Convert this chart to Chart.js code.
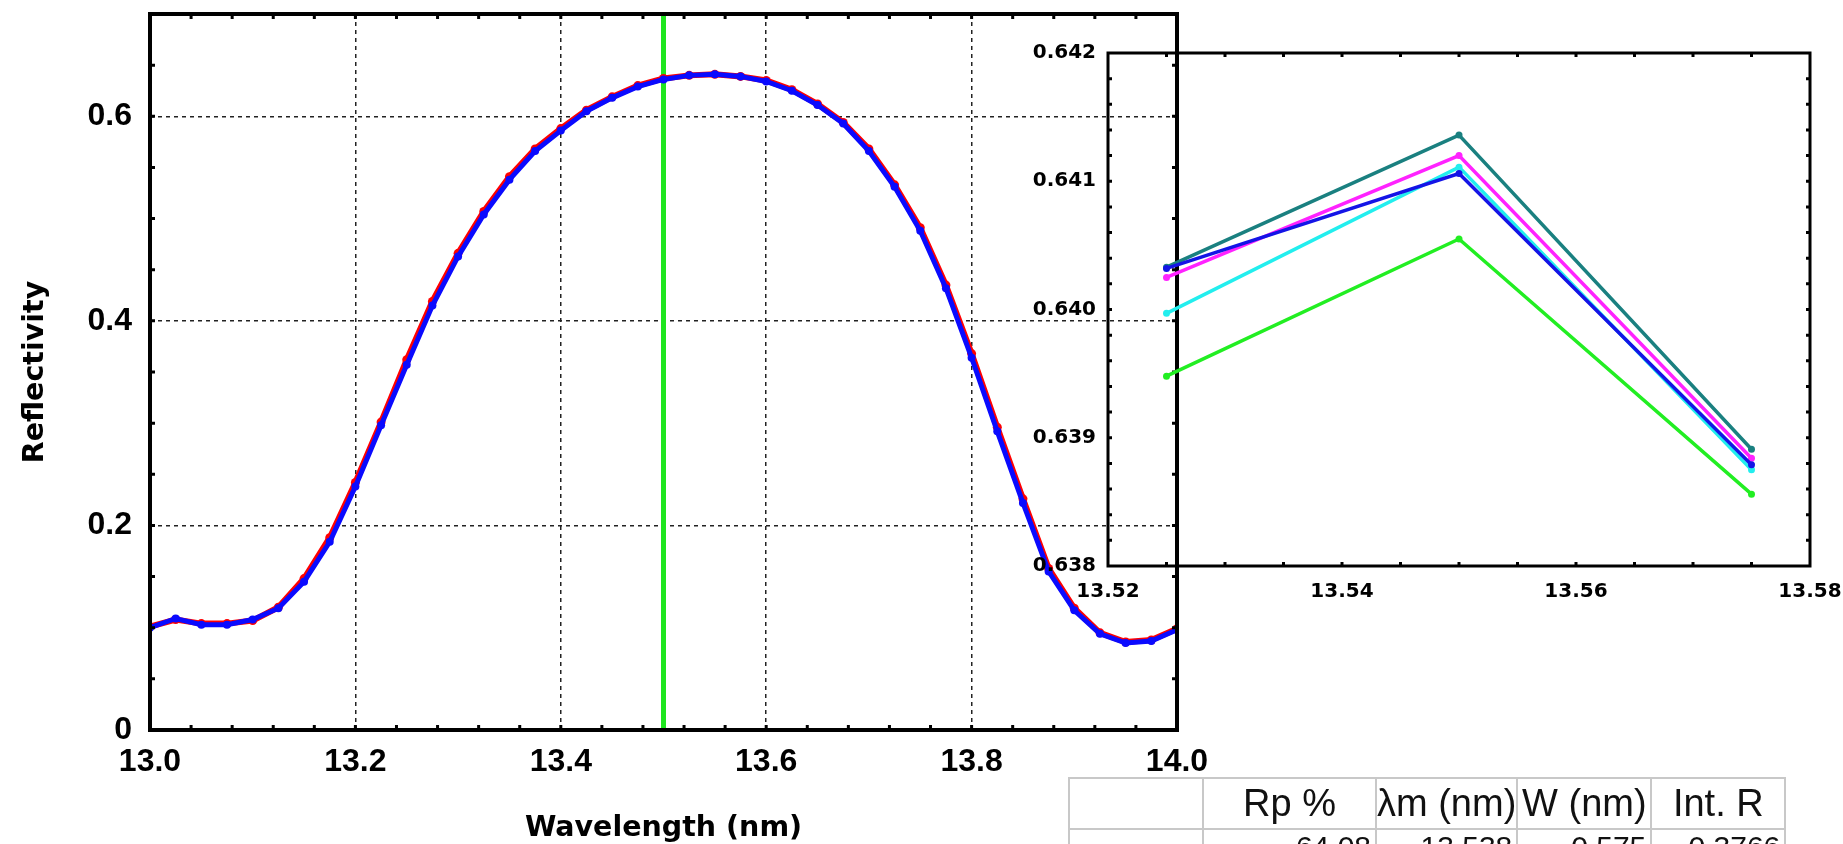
<!DOCTYPE html>
<html>
<head>
<meta charset="utf-8">
<script src="https://cdn.jsdelivr.net/npm/chart.js@4"></script>
<style>
  html, body { margin: 0; padding: 0; background: #fff; }
  body { width: 1843px; height: 844px; overflow: hidden; position: relative; }
  canvas { position: absolute; left: 0; top: 0; }
  #inset { pointer-events: none; }
  #stats { position: absolute; left: 1068px; top: 777px; border-collapse: collapse; table-layout: fixed;
           font-family: "Liberation Sans", Arial, sans-serif; color: #111; }
  #stats td { border: 2px solid #c8c8c8; padding: 0; overflow: hidden; white-space: nowrap; }
  #stats tr.head td { height: 49px; font-size: 38px; }
  #stats tr.head td div { display: flex; justify-content: center; }
  #stats tr.vals td { height: 40px; font-size: 30px; text-align: right; padding-right: 4px; vertical-align: top; }
</style>
</head>
<body>
<canvas id="main" width="1843" height="844"></canvas>
<canvas id="inset" width="1843" height="844"></canvas>
<table id="stats"></table>
<script>
// wavelength grid of the measured curve (nm)
const wavelengths = [13.000, 13.025, 13.050, 13.075, 13.100, 13.125, 13.150, 13.175, 13.200, 13.225,
                     13.250, 13.275, 13.300, 13.325, 13.350, 13.375, 13.400, 13.425, 13.450, 13.475,
                     13.500, 13.525, 13.550, 13.575, 13.600, 13.625, 13.650, 13.675, 13.700, 13.725,
                     13.750, 13.775, 13.800, 13.825, 13.850, 13.875, 13.900, 13.925, 13.950, 13.975, 14.000];

// blue curve (with dots)
const blueR = [0.100, 0.109, 0.103, 0.103, 0.108, 0.119, 0.145, 0.184, 0.238, 0.298,
               0.357, 0.415, 0.463, 0.504, 0.538, 0.566, 0.586, 0.605, 0.618, 0.629,
               0.636, 0.640, 0.641, 0.639, 0.634, 0.625, 0.611, 0.593, 0.566, 0.531,
               0.488, 0.432, 0.364, 0.292, 0.222, 0.155, 0.117, 0.094, 0.085, 0.087, 0.098];

// red curve underneath, peeks out here and there
const redR = [0.101, 0.108, 0.104, 0.104, 0.107, 0.120, 0.148, 0.188, 0.242, 0.301,
              0.362, 0.419, 0.466, 0.507, 0.541, 0.568, 0.588, 0.606, 0.619, 0.630,
              0.637, 0.640, 0.641, 0.639, 0.635, 0.626, 0.612, 0.594, 0.568, 0.533,
              0.491, 0.435, 0.368, 0.296, 0.226, 0.158, 0.119, 0.095, 0.086, 0.088, 0.099];

const markerX = 13.5;   // green vertical line

const mainXTicks = [13.0, 13.2, 13.4, 13.6, 13.8, 14.0];
const mainXLabels = ['13.0', '13.2', '13.4', '13.6', '13.8', '14.0'];
const mainYTicks = [0, 0.2, 0.4, 0.6];
const mainYLabels = ['0', '0.2', '0.4', '0.6'];

// zoomed inset around the peak
const insetX = [13.525, 13.55, 13.575];
const insetTeal = [0.64033, 0.64136, 0.63891];
const insetMagenta = [0.64025, 0.64120, 0.63884];
const insetCyan = [0.63997, 0.64111, 0.63875];
const insetBlue = [0.64032, 0.64106, 0.63879];
const insetGreen = [0.63948, 0.64055, 0.63856];

const insetXTicks = [13.52, 13.54, 13.56, 13.58];
const insetXLabels = ['13.52', '13.54', '13.56', '13.58'];
const insetYTicks = [0.638, 0.639, 0.640, 0.641, 0.642];
const insetYLabels = ['0.638', '0.639', '0.640', '0.641', '0.642'];

// little table under the chart
const tableHead = ['', 'Rp %', '\u03bbm (nm)', 'W (nm)', 'Int. R'];
const tableRow = ['', '64.08', '13.538', '0.575', '0.3766'];
const colWidths = [134, 173, 135, 134, 134];

//Frame with small inward ticks on all four sides
const frameTicks = {
    id: 'frameTicks',
    afterDraw(chart, args, opts) {
        const { ctx, chartArea: a, scales: { x, y } } = chart;
        ctx.save();
        ctx.strokeStyle = '#000';
        ctx.lineWidth = opts.tickWidth;
        ctx.beginPath();
        const nx = Math.round((x.max - x.min) / opts.xStep);
        for (let i = 1; i < nx; i++) {
            const px = x.getPixelForValue(x.min + i * opts.xStep);
            ctx.moveTo(px, a.bottom); ctx.lineTo(px, a.bottom - opts.tickLen);
            ctx.moveTo(px, a.top); ctx.lineTo(px, a.top + opts.tickLen);
        }
        const ny = Math.round((y.max - y.min) / opts.yStep);
        for (let i = 1; i < ny; i++) {
            const py = y.getPixelForValue(y.min + i * opts.yStep);
            ctx.moveTo(a.left, py); ctx.lineTo(a.left + opts.tickLen, py);
            ctx.moveTo(a.right, py); ctx.lineTo(a.right - opts.tickLen, py);
        }
        ctx.stroke();
        ctx.lineWidth = opts.frameWidth;
        ctx.strokeRect(a.left, a.top, a.right - a.left, a.bottom - a.top);
        ctx.restore();
    }
};

const pts = (xs, ys) => xs.map((v, i) => ({ x: v, y: ys[i] }));
const gridColor = (ends) => (c) => ends.includes(c.tick.value) ? 'rgba(0,0,0,0)' : '#222';
// fixed box sizes, and no extra room for the end labels
const fitX = h => s => { s.height = h; s.paddingLeft = 0; s.paddingRight = 0; };
const fitY = w => s => { s.width = w; s.paddingTop = 0; s.paddingBottom = 0; };

//Main chart
new Chart(document.getElementById('main').getContext('2d'), {
    type: 'line',
    data: {
        datasets: [
            { data: pts(wavelengths, blueR), borderColor: '#0a0aff', backgroundColor: '#0a0aff',
              borderWidth: 5, pointRadius: 4, pointBorderWidth: 0, tension: 0 },
            { data: pts(wavelengths, redR), borderColor: '#ff0000', backgroundColor: '#ff0000',
              borderWidth: 6, pointRadius: 4.5, pointBorderWidth: 0, tension: 0 },
            { data: [{ x: markerX, y: 0 }, { x: markerX, y: 0.7 }], borderColor: '#1fe61f',
              borderWidth: 5, pointRadius: 0 }
        ]
    },
    options: {
        responsive: false,
        animation: false,
        layout: { padding: { left: 0, right: 666, top: 14, bottom: 0 } },
        plugins: {
            legend: { display: false },
            tooltip: { enabled: false },
            frameTicks: { xStep: 0.04, yStep: 0.05, tickLen: 5, tickWidth: 3, frameWidth: 4 }
        },
        scales: {
            x: {
                type: 'linear', min: 13, max: 14,
                afterBuildTicks: s => { s.ticks = mainXTicks.map(v => ({ value: v })); },
                afterFit: fitX(114),
                ticks: { callback: (v, i) => mainXLabels[i], autoSkip: false, maxRotation: 0, padding: 13,
                         color: '#000', font: { family: 'Liberation Sans', weight: 'bold', size: 32 } },
                grid: { color: gridColor([13, 14]), lineWidth: 1.5, drawTicks: false },
                border: { display: false, dash: [4, 4] },
                title: { display: true, text: 'Wavelength (nm)', color: '#000',
                         font: { family: 'DejaVu Sans', weight: 'bold', size: 28.5, lineHeight: 1.1 },
                         padding: { top: 0, bottom: 0 } }
            },
            y: {
                min: 0, max: 0.7,
                afterBuildTicks: s => { s.ticks = mainYTicks.map(v => ({ value: v })); },
                afterFit: fitY(150),
                ticks: { callback: (v, i) => mainYLabels[i], padding: 18,
                         color: '#000', font: { family: 'Liberation Sans', weight: 'bold', size: 32 } },
                grid: { color: gridColor([0]), lineWidth: 1.5, drawTicks: false },
                border: { display: false, dash: [4, 4] },
                title: { display: true, text: 'Reflectivity', color: '#000',
                         font: { family: 'DejaVu Sans', weight: 'bold', size: 28.5, lineHeight: 1.1 },
                         padding: { top: 20, bottom: 0 } }
            }
        }
    },
    plugins: [frameTicks]
});

//Inset chart, transparent, on top
const insetColors = ['#1a8080', '#ff22ff', '#22eeee', '#1414e6', '#22ee22'];
const insetSeries = [insetTeal, insetMagenta, insetCyan, insetBlue, insetGreen];
const insetOrder = [3, 4, 2, 1, 5];

new Chart(document.getElementById('inset').getContext('2d'), {
    type: 'line',
    data: {
        datasets: insetSeries.map((s, i) => ({
            data: pts(insetX, s),
            borderColor: insetColors[i], backgroundColor: insetColors[i],
            borderWidth: 3.5, pointRadius: 3.5, pointBorderWidth: 0, tension: 0,
            order: insetOrder[i]
        }))
    },
    options: {
        responsive: false,
        animation: false,
        layout: { padding: { left: 0, right: 33, top: 53, bottom: 0 } },
        plugins: {
            legend: { display: false },
            tooltip: { enabled: false },
            frameTicks: { xStep: 0.005, yStep: 0.0002, tickLen: 4, tickWidth: 3, frameWidth: 3 }
        },
        scales: {
            x: {
                type: 'linear', min: 13.52, max: 13.58,
                afterBuildTicks: s => { s.ticks = insetXTicks.map(v => ({ value: v })); },
                afterFit: fitX(278),
                ticks: { callback: (v, i) => insetXLabels[i], autoSkip: false, maxRotation: 0, padding: 6,
                         color: '#000', font: { family: 'DejaVu Sans', weight: 'bold', size: 20 } },
                grid: { display: false },
                border: { display: false }
            },
            y: {
                min: 0.638, max: 0.642,
                afterBuildTicks: s => { s.ticks = insetYTicks.map(v => ({ value: v })); },
                afterFit: fitY(1108),
                ticks: { callback: (v, i) => insetYLabels[i], padding: 4,
                         color: '#000', font: { family: 'DejaVu Sans', weight: 'bold', size: 20 } },
                grid: { display: false },
                border: { display: false }
            }
        }
    },
    plugins: [frameTicks]
});

//Table
const table = document.getElementById('stats');
const cg = document.createElement('colgroup');
colWidths.forEach(w => {
    const c = document.createElement('col');
    c.style.width = w + 'px';
    cg.appendChild(c);
});
table.appendChild(cg);
const headRow = table.insertRow();
headRow.className = 'head';
tableHead.forEach(t => {
    const d = document.createElement('div');
    d.textContent = t;
    headRow.insertCell().appendChild(d);
});
const valRow = table.insertRow();
valRow.className = 'vals';
tableRow.forEach(t => { valRow.insertCell().textContent = t; });
</script>
</body>
</html>
